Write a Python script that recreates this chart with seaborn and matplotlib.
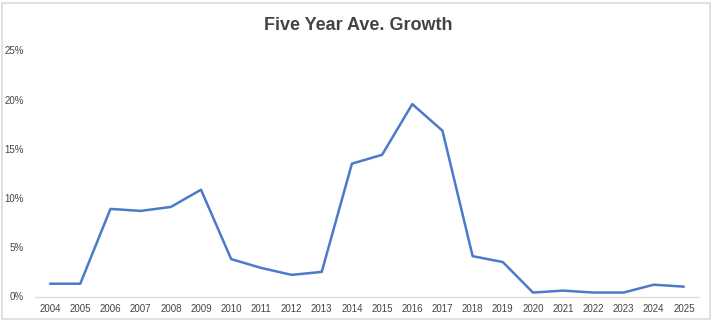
import matplotlib
matplotlib.use("Agg")
import matplotlib.pyplot as plt
from matplotlib.patches import Rectangle
from matplotlib.ticker import FuncFormatter, MultipleLocator
import pandas as pd
import seaborn as sns

years = [str(y) for y in range(2004, 2026)]
growth_pct = [1.3, 1.3, 8.9, 8.7, 9.1, 10.85, 3.8, 2.9, 2.2, 2.5, 13.5, 14.4,
              19.55, 16.85, 4.1, 3.5, 0.4, 0.6, 0.4, 0.4, 1.2, 1.0]
title = "Five Year Ave. Growth"

df = pd.DataFrame({"year": years, "growth": growth_pct})

sns.set_theme(style="white")
plt.rcParams["font.family"] = ["Liberation Sans", "DejaVu Sans"]

fig = plt.figure(figsize=(7.16, 3.24), dpi=100)
ax = fig.add_axes([35 / 716, (324 - 296.5) / 324, 664 / 716, 246 / 324])

sns.lineplot(data=df, x="year", y="growth", ax=ax, color="#4a7bc9",
             linewidth=1.8, sort=False)

ax.set_xlim(-0.5, len(years) - 0.5)
ax.set_ylim(0, 25)
ax.yaxis.set_major_locator(MultipleLocator(5))
ax.yaxis.set_major_formatter(FuncFormatter(lambda v, p: f"{v:.0f}%"))
ax.set_xlabel("")
ax.set_ylabel("")

for side in ["top", "right", "left"]:
    ax.spines[side].set_visible(False)
ax.spines["bottom"].set_color("#dddddd")
ax.spines["bottom"].set_linewidth(1.0)

ax.tick_params(axis="both", length=0, labelsize=7, labelcolor="#444444")
ax.tick_params(axis="y", pad=8)
ax.tick_params(axis="x", pad=5.5)

fig.text(0.5, 1 - 25 / 324, title, ha="center", va="center",
         fontsize=13, fontweight="bold", color="#444444")

# light frame around the chart
fig.patches.append(Rectangle((2 / 716, 5 / 324), 708 / 716, 316 / 324,
                             transform=fig.transFigure, fill=False,
                             edgecolor="#dcdcdc", linewidth=1.2))

fig.savefig("out.png", dpi=100)
